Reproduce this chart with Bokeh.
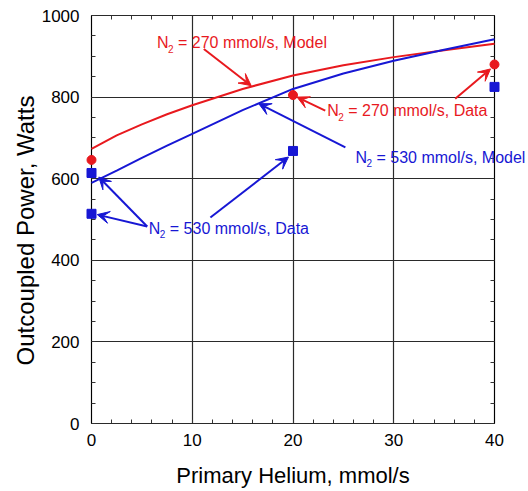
import math
from bokeh.plotting import figure
from bokeh.models import Range1d, LinearAxis, SingleIntervalTicker, FixedTicker, Label, Arrow, VeeHead
from bokeh.embed import file_html
from bokeh.resources import INLINE

# Model curves: outcoupled power vs primary helium flow
helium_model = [0, 2.5, 5, 7.5, 10, 15, 20, 25, 30, 35, 40]
power_model_270 = [673, 706, 733, 758, 780, 820, 853, 878, 898, 915, 931]
power_model_530 = [590, 620, 651, 681, 710, 768, 820, 858, 889, 916, 942]

# Measured points
helium_data_270 = [0, 20, 40]
power_data_270 = [646, 805, 880]
helium_data_530 = [0, 0, 20, 40]
power_data_530 = [614, 514, 668, 825]

x_title = "Primary Helium, mmol/s"
y_title = "Outcoupled Power, Watts"

RED = "#e8191e"
BLUE = "#1717d4"
FONT = "Liberation Sans"

W, H = 528, 491
# plot box in pixels: left, right, top, bottom
BL, BR, BT, BB = 91, 494, 15, 423
X0, X1, Y0, Y1 = 0, 40, 0, 1000
sx = (BR - BL) / (X1 - X0)
sy = (BB - BT) / (Y1 - Y0)

# The frame covers the whole canvas so that markers on the box edges and
# the annotations outside it are not clipped; axes are pinned to the box.
p = figure(width=W, height=H,
           x_range=Range1d(X0 - BL / sx, X1 + (W - BR) / sx),
           y_range=Range1d(Y0 - (H - BB) / sy, Y1 + BT / sy),
           output_backend="svg", toolbar_location=None,
           min_border=0, x_axis_location=None, y_axis_location=None)
p.background_fill_color = "white"
p.border_fill_color = "white"
p.outline_line_color = None
p.grid.visible = False


def style_axis(ax):
    ax.level = "underlay"
    ax.axis_line_color = "black"
    ax.axis_line_width = 1
    ax.major_tick_out = 0
    ax.minor_tick_in = 4
    ax.minor_tick_out = 0
    ax.major_tick_line_color = "#2a2a2a"
    ax.major_tick_line_width = 1.2
    ax.minor_tick_line_color = "#333333"
    ax.major_label_text_font = FONT
    ax.major_label_text_font_size = "17px"
    ax.major_label_text_color = "black"
    return ax


# bottom and left axes carry the labels; their long inward major ticks
# double as the grid lines
xb = style_axis(LinearAxis(ticker=SingleIntervalTicker(interval=10, num_minor_ticks=5),
                           fixed_location=Y0, bounds=(X0, X1)))
xb.major_tick_in = BB - BT
xb.major_label_standoff = 10
yl = style_axis(LinearAxis(ticker=SingleIntervalTicker(interval=200, num_minor_ticks=4),
                           fixed_location=X0, bounds=(Y0, Y1)))
yl.major_tick_in = BR - BL
yl.major_label_standoff = 12

# top and right axes: minor ticks only
xt = style_axis(LinearAxis(ticker=FixedTicker(ticks=[], minor_ticks=list(range(X0, X1 + 1, 2))),
                           fixed_location=Y1, bounds=(X0, X1)))
xt.major_tick_in = 0
yr = style_axis(LinearAxis(ticker=FixedTicker(ticks=[], minor_ticks=list(range(Y0, Y1 + 1, 50))),
                           fixed_location=X1, bounds=(Y0, Y1)))
yr.major_tick_in = 0

p.add_layout(xb, "below")
p.add_layout(xt, "above")
p.add_layout(yl, "left")
p.add_layout(yr, "right")

# Curves and markers
p.line(helium_model, power_model_270, line_color=RED, line_width=2)
p.line(helium_model, power_model_530, line_color=BLUE, line_width=2)
p.scatter(helium_data_270, power_data_270, marker="circle", size=9,
          fill_color=RED, line_color=RED)
p.scatter(helium_data_530, power_data_530, marker="square", size=9,
          fill_color=BLUE, line_color=BLUE)


def n2_label(x, y, rest, color, rest_offset):
    """Draw 'N' with a subscript 2 followed by the rest of the label."""
    common = dict(x=x, y=y, text_font=FONT, text_color=color,
                  text_baseline="alphabetic", text_align="left")
    p.add_layout(Label(text="N", text_font_size="16px", y_offset=4, **common))
    p.add_layout(Label(text="2", text_font_size="10px", x_offset=11, y_offset=-2, **common))
    p.add_layout(Label(text=rest, text_font_size="16px", x_offset=rest_offset, y_offset=4,
                       **common))


def arrow(x0, y0, x1, y1, color):
    p.add_layout(Arrow(end=VeeHead(size=12, fill_color=color, line_color=color, line_width=1),
                       x_start=x0, y_start=y0, x_end=x1, y_end=y1,
                       line_color=color, line_width=2))


n2_label(6.5, 924, "= 270 mmol/s, Model", RED, 21)
arrow(11.15, 918, 15.85, 828, RED)

n2_label(23.4, 757, "= 270 mmol/s, Data", RED, 21)
arrow(23.2, 767, 20.4, 800, RED)
arrow(36.1, 796, 39.6, 869, RED)

n2_label(26.2, 643, "= 530 mmol/s, Model", BLUE, 21)
arrow(25.2, 677, 16.6, 784, BLUE)

n2_label(5.69, 469, "= 530 mmol/s, Data", BLUE, 21)
arrow(5.53, 483, 0.72, 604, BLUE)
arrow(5.53, 483, 0.57, 512, BLUE)
arrow(11.8, 505, 19.55, 653, BLUE)

# Axis titles
p.add_layout(Label(x=(X0 + X1) / 2, y=-146, y_offset=8, text=x_title, text_font=FONT,
                   text_font_size="22px", text_color="black",
                   text_align="center", text_baseline="alphabetic"))
p.add_layout(Label(x=-6.55, y=473, text=y_title, text_font=FONT, text_font_size="24px",
                   text_color="black", text_align="center", text_baseline="middle",
                   angle=math.pi / 2))

open("out.html", "w").write(file_html(p, INLINE))
